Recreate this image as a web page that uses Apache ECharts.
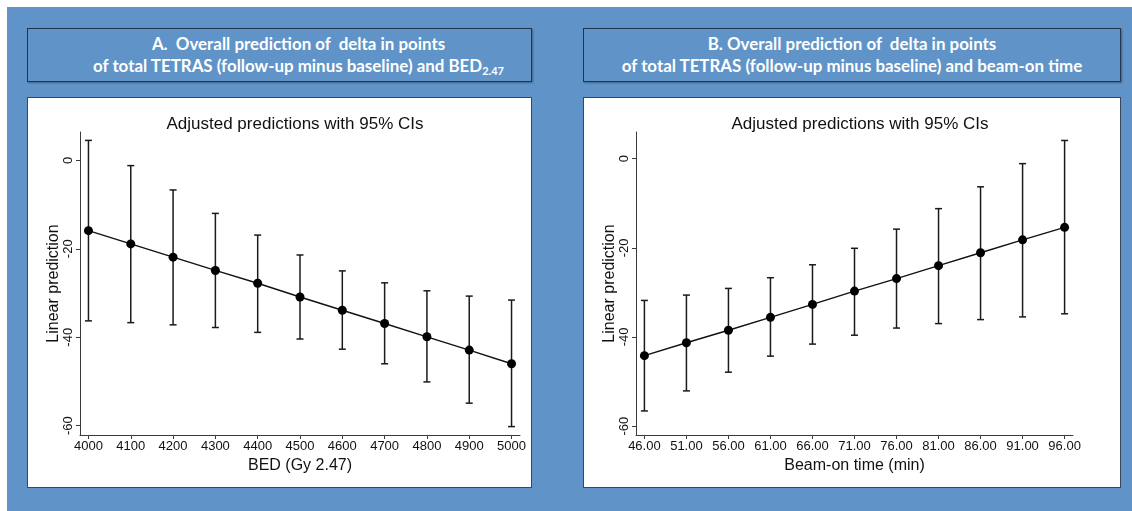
<!DOCTYPE html>
<html><head><meta charset="utf-8">
<script src="https://cdn.jsdelivr.net/npm/echarts@6/dist/echarts.min.js"></script>
<style>
html,body{margin:0;padding:0;width:1132px;height:511px;overflow:hidden;background:#fff;}
#bg{position:absolute;left:7px;top:7px;width:1125px;height:504px;background:#6094c8;}
.hdr{position:absolute;top:28px;height:54px;box-sizing:border-box;border:1.5px solid #23354d;background:#6094c8;color:#fff;font-family:Lato,"Open Sans",sans-serif;font-weight:700;font-size:16.9px;line-height:22px;text-align:center;white-space:pre;display:flex;flex-direction:column;justify-content:center;box-shadow:1px 1px 2px rgba(0,0,0,0.35);}
.hdr sub{font-size:11px;line-height:0;vertical-align:-3px;}
.pnl{position:absolute;top:97px;height:391px;box-sizing:border-box;background:#fff;border:1px solid #3b4756;}
#chart{position:absolute;left:0;top:0;width:1132px;height:511px;}
</style></head>
<body>
<div id="bg"></div>
<div class="hdr" style="left:27px;width:505px;padding-left:38px;"><div>A.  Overall prediction of  delta in points</div><div>of total TETRAS (follow-up minus baseline) and BED<sub>2.47</sub></div></div>
<div class="hdr" style="left:583px;width:538px;"><div>B. Overall prediction of  delta in points</div><div>of total TETRAS (follow-up minus baseline) and beam-on time</div></div>
<div class="pnl" style="left:27px;width:505px;"></div>
<div class="pnl" style="left:583px;width:538px;"></div>
<div id="chart"></div>
<script>
// ---- Data ----
const bedValues = [4000, 4100, 4200, 4300, 4400, 4500, 4600, 4700, 4800, 4900, 5000];
const bedPred   = [-15.9, -18.9, -21.9, -24.9, -27.8, -30.9, -33.9, -36.9, -39.9, -42.9, -46.0];
const bedLower  = [-36.3, -36.7, -37.2, -37.8, -38.9, -40.4, -42.7, -46.0, -50.1, -54.9, -60.2];
const bedUpper  = [4.5, -1.2, -6.7, -12.0, -16.9, -21.4, -25.0, -27.7, -29.5, -30.7, -31.6];

const beamValues = [46, 51, 56, 61, 66, 71, 76, 81, 86, 91, 96];
const beamPred   = [-44.2, -41.3, -38.5, -35.6, -32.7, -29.7, -26.9, -24.0, -21.1, -18.2, -15.4];
const beamLower  = [-56.6, -52.1, -47.9, -44.3, -41.6, -39.6, -38.0, -37.0, -36.1, -35.5, -34.8];
const beamUpper  = [-31.8, -30.6, -29.1, -26.7, -23.8, -20.1, -15.8, -11.2, -6.3, -1.1, 4.1];

const yTicks = [-60, -40, -20, 0];
const bedTicks = bedValues;
const beamTicks = beamValues;

const plotTitle = 'Adjusted predictions with 95% CIs';
const yName = 'Linear prediction';
const bedName = 'BED (Gy 2.47)';
const beamName = 'Beam-on time (min)';

// ---- Chart ----
const FONT = '"Liberation Sans", Arial, sans-serif';
const AX = '#3a3a3a';
const chart = echarts.init(document.getElementById('chart'), null, {renderer: 'canvas'});

function errRender(params, api) {
  const x = api.value(0), lo = api.value(1), hi = api.value(2);
  const a = api.coord([x, lo]), b = api.coord([x, hi]);
  const hw = 3.5;
  const st = {stroke: '#1a1a1a', lineWidth: 1.5};
  return {type: 'group', children: [
    {type: 'line', shape: {x1: a[0], y1: a[1], x2: b[0], y2: b[1]}, style: st},
    {type: 'line', shape: {x1: a[0] - hw, y1: a[1], x2: a[0] + hw, y2: a[1]}, style: st},
    {type: 'line', shape: {x1: b[0] - hw, y1: b[1], x2: b[0] + hw, y2: b[1]}, style: st}
  ]};
}

function xAxisCfg(idx, min, max, ticks, name, fmt) {
  return {
    type: 'value', gridIndex: idx, min: min, max: max,
    axisLine: {show: true, onZero: false, lineStyle: {color: AX, width: 1}},
    axisTick: {show: true, customValues: ticks, length: 4, lineStyle: {color: AX, width: 1}},
    axisLabel: {customValues: ticks, fontSize: 13, color: '#111', margin: 5, fontFamily: FONT, formatter: fmt},
    splitLine: {show: false},
    name: name, nameLocation: 'middle', nameGap: 22,
    nameTextStyle: {fontSize: 16, color: '#111', fontFamily: FONT}
  };
}
function yAxisCfg(idx, min, max) {
  return {
    type: 'value', gridIndex: idx, min: min, max: max,
    axisLine: {show: true, onZero: false, lineStyle: {color: AX, width: 1}},
    axisTick: {show: true, customValues: yTicks, length: 4, lineStyle: {color: AX, width: 1}},
    axisLabel: {customValues: yTicks, rotate: 90, fontSize: 13, color: '#111', margin: 5, fontFamily: FONT},
    splitLine: {show: false},
    name: yName, nameLocation: 'middle', nameGap: 18,
    nameTextStyle: {fontSize: 16, color: '#111', fontFamily: FONT}
  };
}
function zip(xs, ys) { return xs.map((x, i) => [x, ys[i]]); }
function zip3(xs, a, b) { return xs.map((x, i) => [x, a[i], b[i]]); }

const option = {
  animation: false,
  backgroundColor: 'transparent',
  title: [
    {text: plotTitle, left: 290, top: 111, textAlign: 'center',
     textStyle: {fontSize: 17, fontWeight: 'normal', color: '#111', fontFamily: FONT}},
    {text: plotTitle, left: 855, top: 111, textAlign: 'center',
     textStyle: {fontSize: 17, fontWeight: 'normal', color: '#111', fontFamily: FONT}}
  ],
  grid: [
    {left: 80, top: 132, width: 440, height: 303, containLabel: false},
    {left: 636, top: 132, width: 437, height: 303, containLabel: false}
  ],
  xAxis: [
    xAxisCfg(0, 3980, 5020, bedTicks, bedName, v => String(v)),
    xAxisCfg(1, 45, 97, beamTicks, beamName, v => v.toFixed(2))
  ],
  yAxis: [
    yAxisCfg(0, -62.1, 6.4),
    yAxisCfg(1, -62.0, 6.0)
  ],
  series: [
    {type: 'custom', xAxisIndex: 0, yAxisIndex: 0, renderItem: errRender,
     data: zip3(bedValues, bedLower, bedUpper), encode: {x: 0, y: [1, 2]}, z: 2, silent: true},
    {type: 'line', xAxisIndex: 0, yAxisIndex: 0, data: zip(bedValues, bedPred),
     symbol: 'circle', symbolSize: 9, itemStyle: {color: '#000'},
     lineStyle: {color: '#111', width: 1.4}, z: 3, silent: true},
    {type: 'custom', xAxisIndex: 1, yAxisIndex: 1, renderItem: errRender,
     data: zip3(beamValues, beamLower, beamUpper), encode: {x: 0, y: [1, 2]}, z: 2, silent: true},
    {type: 'line', xAxisIndex: 1, yAxisIndex: 1, data: zip(beamValues, beamPred),
     symbol: 'circle', symbolSize: 9, itemStyle: {color: '#000'},
     lineStyle: {color: '#111', width: 1.4}, z: 3, silent: true}
  ]
};
chart.setOption(option);
</script>
</body></html>
